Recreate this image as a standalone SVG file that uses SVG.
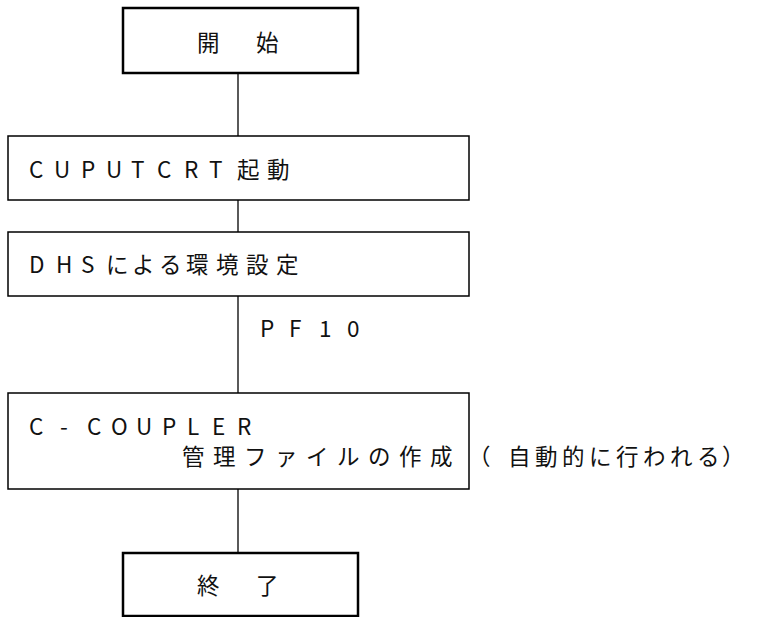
<svg xmlns="http://www.w3.org/2000/svg" width="765" height="617" viewBox="0 0 765 617">
<style>
.bg{fill:#fff}
.term{fill:#fff;stroke:#000;stroke-width:2.5}
.proc{fill:#fff;stroke:#000;stroke-width:1.5}
.conn{stroke:#000;stroke-width:1.3;fill:none}
text{font-family:"Noto Sans CJK JP","Noto Sans",sans-serif;font-size:22.5px;fill:#111}
</style>
<rect class="bg" x="0" y="0" width="765" height="617"/>
<g id="connectors">
<line class="conn" x1="238" y1="73" x2="238" y2="136"/>
<line class="conn" x1="238" y1="200" x2="238" y2="232"/>
<line class="conn" x1="238" y1="296" x2="238" y2="393"/>
<line class="conn" x1="238" y1="489" x2="238" y2="553"/>
<text x="260 289 319 347" y="337">PF10</text>
</g>
<g id="start">
<rect class="term" x="123" y="8" width="235" height="65"/>
<text x="197 256" y="51">開始</text>
</g>
<g id="cuputcrt">
<rect class="proc" x="8" y="136" width="461" height="64"/>
<text x="29 54 81 106 131 157 184 209 237 267" y="178">CUPUTCRT起動</text>
</g>
<g id="dhs">
<rect class="proc" x="8" y="232" width="461" height="64"/>
<text x="29 56 81 106 132 159 186 216 246 276" y="273">DHSによる環境設定</text>
</g>
<g id="ccoupler">
<rect class="proc" x="8" y="393" width="461" height="96"/>
<text x="29 60 87 111 136 162 187 212 237" y="435">C-COUPLER</text>
<text x="182 213 244 275 306 337 368 399 430" y="465">管理ファイルの作成</text>
</g>
<g id="note">
<text x="468 508 535 562 589 616 643 670 697 722" y="465">（自動的に行われる）</text>
</g>
<g id="end">
<rect class="term" x="123" y="553" width="235" height="63"/>
<text x="197 256" y="594">終了</text>
</g>
</svg>
